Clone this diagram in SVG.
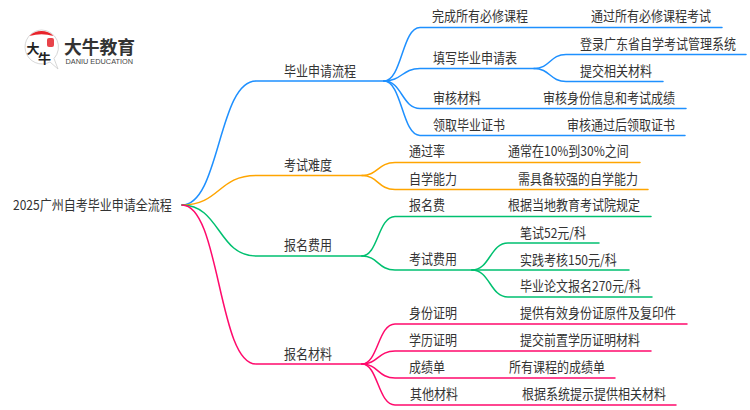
<svg xmlns="http://www.w3.org/2000/svg" width="750" height="410" viewBox="0 0 750 410">
<style>
text{font-family:"Noto Sans CJK SC","Liberation Sans",sans-serif;font-size:13.500px;fill:#333;transform-box:fill-box;transform-origin:0 50%;transform:translateY(-1px) scaleX(.89)}
#logo text{transform:none}
.l{fill:none;stroke-width:1.5;stroke-linecap:round}
.b{stroke:#1e90ff}.o{stroke:#ffa500}.g{stroke:#00c070}.p{stroke:#ff0a6c}
</style>
<rect width="750" height="410" fill="#fff"/>
<g id="connectors">
<path class="l b" d="M182 205C220 205 218 81 256 81H384"/>
<path class="l o" d="M182 205C220 205 218 175.500 256 175.500H362"/>
<path class="l g" d="M182 205C220 205 218 256 256 256H362"/>
<path class="l p" d="M182 205C220 205 218 364 256 364H362"/>
<path class="l b" d="M384 81C402 81 402 27.500 420 27.500H722"/>
<path class="l b" d="M384 81C402 81 402 68.500 420 68.500H534"/>
<path class="l b" d="M534 68.500C550 68.500 550 54.500 566 54.500H746"/>
<path class="l b" d="M534 68.500C550 68.500 550 81.500 566 81.500H663"/>
<path class="l b" d="M384 81C402 81 402 108.500 420 108.500H686"/>
<path class="l b" d="M384 81C402 81 402 135.500 420 135.500H685"/>
<path class="l o" d="M362 175.500C378 175.500 378 162.500 395 162.500H640"/>
<path class="l o" d="M362 175.500C378 175.500 378 189.500 395 189.500H648"/>
<path class="l g" d="M362 256C378 256 378 216.500 395 216.500H651"/>
<path class="l g" d="M362 256C378 256 378 270 395 270H472"/>
<path class="l g" d="M472 270C490 270 490 243 508 243H599"/>
<path class="l g" d="M472 270C490 270 490 270 508 270H629"/>
<path class="l g" d="M472 270C490 270 490 297 508 297H652"/>
<path class="l p" d="M362 364C378 364 378 324 395 324H687"/>
<path class="l p" d="M362 364C378 364 378 351 395 351H651"/>
<path class="l p" d="M362 364C378 364 378 378 395 378H615"/>
<path class="l p" d="M362 364C378 364 378 405 395 405H676"/>
</g>
<g id="logo">
<path d="M41.500 30A17 17 0 1 0 50 62L58 69L54 58.500A17 17 0 0 0 41.500 30Z" fill="#fff" stroke="#ccc" stroke-width="0.800"/>
<path d="M29.500 36A17 17 0 0 1 53.500 36Q41.500 32.500 29.500 36Z" fill="#e8232a"/>
<rect x="47" y="38" width="7" height="9" rx="2" fill="#e8434a"/>
<text x="26.500" y="53" style="font-size:13px;font-weight:700;fill:#222">大</text>
<text x="38" y="62.500" style="font-size:13px;font-weight:700;fill:#222">牛</text>
<text x="64" y="54" style="font-size:17.800px;font-weight:700;fill:#333">大牛教育</text>
<text x="65.500" y="63.500" textLength="67.500" lengthAdjust="spacingAndGlyphs" style="font-family:'Liberation Sans',sans-serif;font-size:7px;fill:#444">DANIU EDUCATION</text>
</g>
<g id="root"><text x="13" y="210.600">2025广州自考毕业申请全流程</text></g>
<g id="n1"><text x="284" y="76.600">毕业申请流程</text></g>
<g id="n2"><text x="284" y="170.600">考试难度</text></g>
<g id="n3"><text x="284" y="251.300">报名费用</text></g>
<g id="n4"><text x="284" y="359.600">报名材料</text></g>
<g id="n11"><text x="432" y="22.300">完成所有必修课程</text></g>
<g id="n111"><text x="591" y="22.300">通过所有必修课程考试</text></g>
<g id="n12"><text x="433" y="64">填写毕业申请表</text></g>
<g id="n121"><text x="580" y="50">登录广东省自学考试管理系统</text></g>
<g id="n122"><text x="580" y="76.600">提交相关材料</text></g>
<g id="n13"><text x="433" y="104">审核材料</text></g>
<g id="n131"><text x="543" y="104">审核身份信息和考试成绩</text></g>
<g id="n14"><text x="433" y="130.600">领取毕业证书</text></g>
<g id="n141"><text x="567" y="130.600">审核通过后领取证书</text></g>
<g id="n21"><text x="409" y="157.300">通过率</text></g>
<g id="n211"><text x="508" y="157.300">通常在10%到30%之间</text></g>
<g id="n22"><text x="409" y="184.600">自学能力</text></g>
<g id="n221"><text x="518" y="184.600">需具备较强的自学能力</text></g>
<g id="n31"><text x="409" y="211">报名费</text></g>
<g id="n311"><text x="508" y="211">根据当地教育考试院规定</text></g>
<g id="n32"><text x="409" y="264.600">考试费用</text></g>
<g id="n321"><text x="520" y="238.900">笔试52元/科</text></g>
<g id="n322"><text x="520" y="265.600">实践考核150元/科</text></g>
<g id="n323"><text x="520" y="292.300">毕业论文报名270元/科</text></g>
<g id="n41"><text x="409" y="318.900">身份证明</text></g>
<g id="n411"><text x="520" y="318.900">提供有效身份证原件及复印件</text></g>
<g id="n42"><text x="409" y="346.300">学历证明</text></g>
<g id="n421"><text x="520" y="346.300">提交前置学历证明材料</text></g>
<g id="n43"><text x="409" y="373.300">成绩单</text></g>
<g id="n431"><text x="509" y="373.300">所有课程的成绩单</text></g>
<g id="n44"><text x="410" y="399.600">其他材料</text></g>
<g id="n441"><text x="522" y="399.600">根据系统提示提供相关材料</text></g>
</svg>
